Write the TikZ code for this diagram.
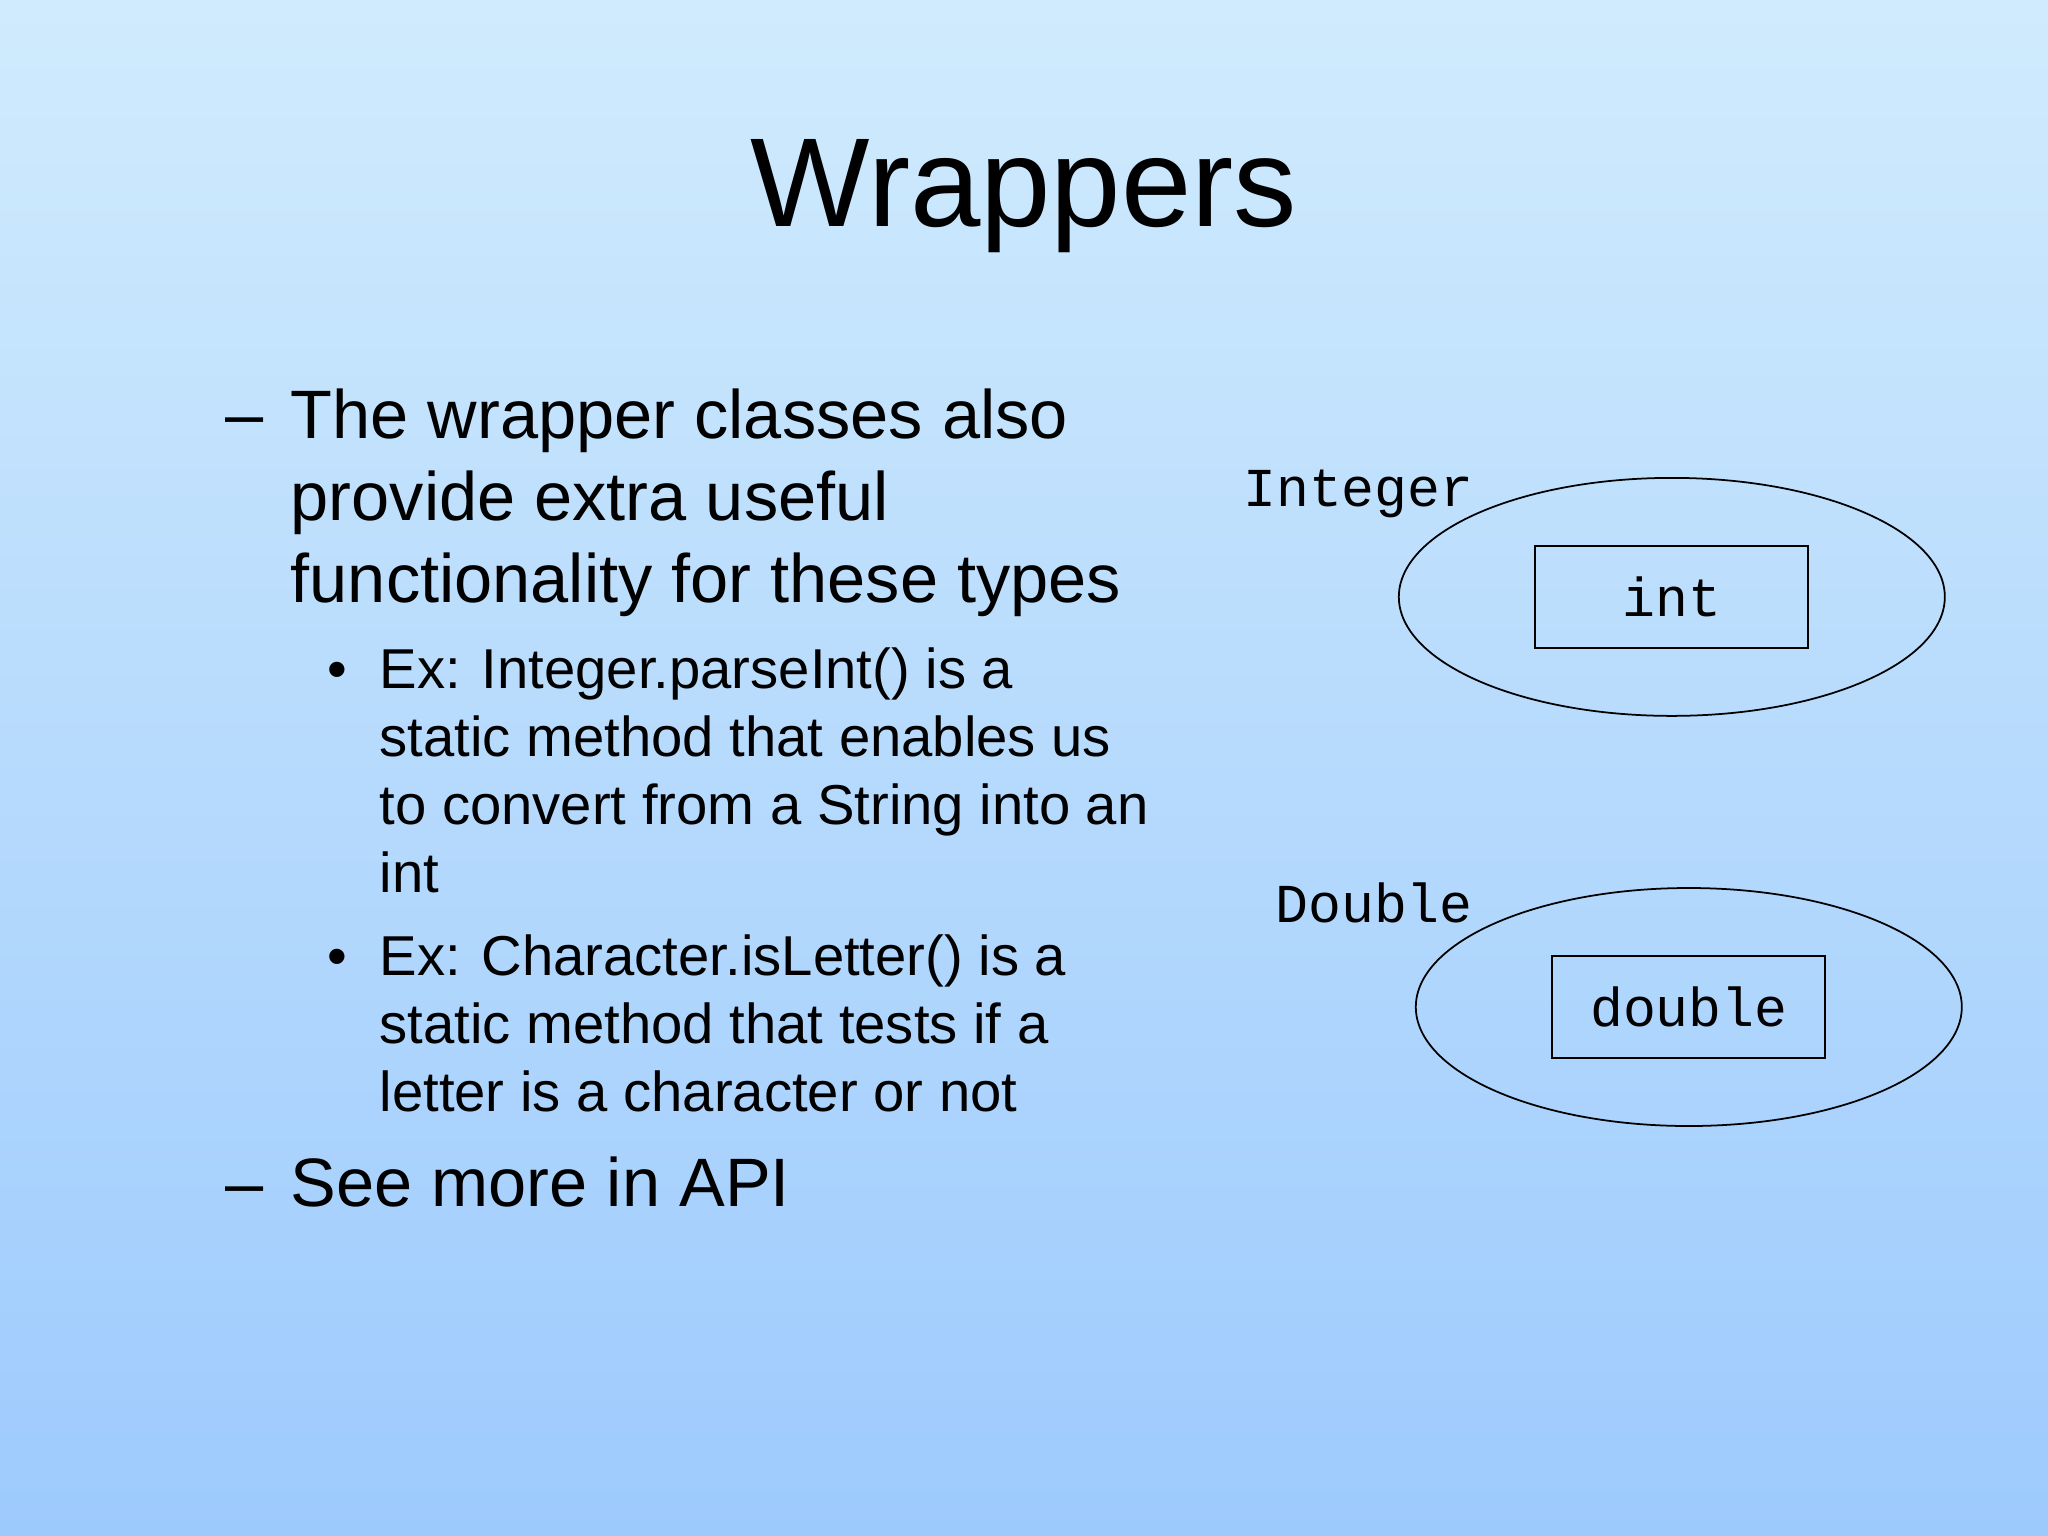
\documentclass[tikz,border=0pt]{standalone}
\usepackage{fontspec}
\setmainfont{Liberation Sans}
\newfontfamily\codefont{Liberation Mono}
\usetikzlibrary{shapes.geometric}
\tikzstyle{title} = [font=\fontsize{36}{40}\selectfont]
\tikzstyle{bigtext} = [anchor=base west, inner sep=0pt, align=left, font=\fontsize{19.5}{23.3}\selectfont]
\tikzstyle{smalltext} = [anchor=base west, inner sep=0pt, align=left, font=\fontsize{16}{19.3}\selectfont]
\tikzstyle{wrap} = [draw, ellipse, minimum width=5.46cm, minimum height=2.38cm, inner sep=0pt]
\tikzstyle{prim} = [draw, rectangle, minimum width=2.73cm, minimum height=1.02cm, inner sep=0pt, font=\codefont\fontsize{15.6}{18}\selectfont]
\tikzstyle{typename} = [inner sep=0pt, font=\codefont\fontsize{15.6}{18}\selectfont]
\definecolor{bgtop}{RGB}{208,235,253}
\definecolor{bgbottom}{RGB}{157,202,253}

\begin{document}
\begin{tikzpicture}[x=0.013061cm, y=-0.013061cm, line width=0.5pt]
	\shade [top color=bgtop, bottom color=bgbottom] (0,0) rectangle (1568,1176);
	\useasboundingbox (0,0) rectangle (1568,1176);

	\node [title] (heading) at (784,150) {Wrappers};

	% Bullets (multi-line nodes sit on their last line)
	\node [bigtext] (dash1) at (172,335) {--};
	\node [bigtext] (item1) at (222,461) {The wrapper classes also\\provide extra useful\\functionality for these types};
	\node [smalltext] (dot1) at (250,527) {\textbullet};
	\node [smalltext] (sub1) at (290,683) {Ex: Integer.parseInt() is a\\static method that enables us\\to convert from a String into an\\int};
	\node [smalltext] (dot2) at (250,747) {\textbullet};
	\node [smalltext] (sub2) at (290,851) {Ex: Character.isLetter() is a\\static method that tests if a\\letter is a character or not};
	\node [bigtext] (dash2) at (172,924) {--};
	\node [bigtext] (item2) at (222,924) {See more in API};

	% Wrapper objects
	\node [wrap] (integerobj) at (1280,457) {};
	\node [prim] (intbox) at (1280,457) {int};
	\node [typename] (integerlabel) at (1040,378) {Integer};
	\node [wrap] (doubleobj) at (1293,771) {};
	\node [prim] (doublebox) at (1293,771) {double};
	\node [typename] (doublelabel) at (1052,691) {Double};
\end{tikzpicture}
\end{document}
